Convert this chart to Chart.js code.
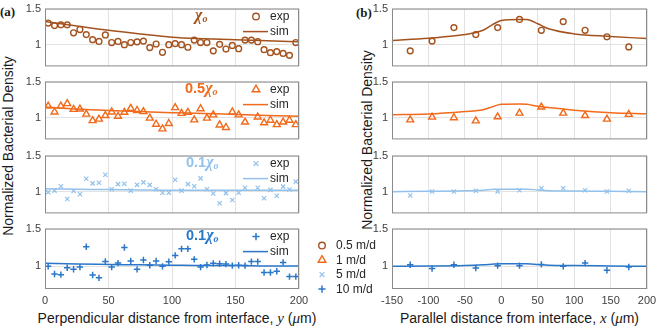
<!DOCTYPE html>
<html>
<head>
<meta charset="utf-8">
<script src="https://cdn.jsdelivr.net/npm/chart.js@4/dist/chart.umd.min.js"></script>
<style>
  body { margin: 0; background: #fff; }
  #wrap { position: relative; width: 656px; height: 328px; overflow: hidden;
          font-family: "Liberation Sans", Arial, sans-serif; color: #1a1a1a; }
  canvas { position: absolute; }
  .t { position: absolute; white-space: nowrap; }
  .lab { font: bold 13px "Liberation Serif", "Times New Roman", serif; }
  .xt { font-size: 14px; line-height: 18px; text-align: center; }
  .yt { font-size: 14px; line-height: 16px; transform: translate(-50%, -50%) rotate(-90deg); }
  .s { font-family: "Liberation Serif", "Times New Roman", serif; font-style: italic; font-size: 15px; }
  .ann { font-weight: bold; font-size: 14.5px; line-height: 16px; }
  .ann i { font-family: "Liberation Serif", "Times New Roman", serif; font-size: 16px; }
  .ann sub { font-family: "Liberation Serif", serif; font-style: italic; font-size: 10px; vertical-align: -2px; }
</style>
</head>
<body>
<div id="wrap">
  <div class="t lab" style="left:0px;top:4px">(a)</div>
  <div class="t lab" style="left:356px;top:5px">(b)</div>
  <div class="t yt" style="left:8px;top:146px">Normalized Bacterial Density</div>
  <div class="t yt" style="left:367px;top:140px">Normalized Bacterial Density</div>
  <div class="t xt" style="left:5px;width:344px;top:309px">Perpendicular distance from interface, <span class="s">y</span> (<span class="s">μ</span>m)</div>
  <div class="t xt" style="left:372px;width:295px;top:309px">Parallel distance from interface, <span class="s">x</span> (<span class="s">μ</span>m)</div>
</div>
<script>
// perpendicular profiles (panel a)
const perpX = [2.5, 7.5, 12.5, 17.5, 22.5, 27.5, 32.5, 37.5, 42.5, 47.5,
  52.5, 57.5, 62.5, 67.5, 72.5, 77.5, 82.5, 87.5, 92.5, 97.5,
  102.5, 107.5, 112.5, 117.5, 122.5, 127.5, 132.5, 137.5, 142.5, 147.5,
  152.5, 157.5, 162.5, 167.5, 172.5, 177.5, 182.5, 187.5, 192.5, 197.5];
const perpExp05 = [1.30, 1.265, 1.275, 1.275, 1.165, 1.21, 1.14, 1.07, 1.045, 1.135,
  1.03, 1.045, 1.0, 1.03, 1.04, 1.05, 0.96, 1.01, 0.895, 1.0,
  1.015, 1.0, 0.965, 1.064, 1.03, 1.03, 0.915, 1.005, 0.94, 0.99,
  0.945, 1.064, 1.064, 1.042, 0.932, 0.89, 0.905, 0.88, 0.853, 1.03];
const perpExp1 = [1.16, 1.08, 1.16, 1.195, 1.115, 1.12, 1.05, 0.96, 0.98, 1.03,
  1.08, 1.02, 1.075, 1.13, 1.10, 1.085, 0.995, 0.91, 0.845, 0.92,
  1.14, 1.06, 1.075, 0.97, 1.125, 0.995, 1.04, 0.90, 0.865, 1.08,
  1.04, 0.94, null, 1.01, 0.93, 0.965, 0.905, 0.94, 0.965, 0.905];
const perpExp5 = [0.995, 1.015, 1.075, 0.90, 1.01, 0.965, 1.18, 1.115, 1.125, 1.235,
  1.035, 1.105, 1.11, 1.015, 1.095, 1.13, 1.095, 1.035, 0.985, 0.985,
  1.165, 1.015, 1.105, 1.075, 1.185, 1.035, 0.975, 0.84, 0.98, 0.885,
  0.985, 1.055, null, 1.055, 0.91, 1.025, 0.945, 1.07, 1.03, 1.14];
const perpExp10 = [1.0, 0.898, 0.89, 0.982, 0.962, 0.99, 1.26, 0.886, 0.848, 1.065,
  0.99, 1.043, 1.25, 1.072, 0.96, 1.085, 1.015, 1.072, 1.0, 1.062,
  1.145, 1.232, 1.232, 1.093, 0.99, 1.018, 1.04, 1.035, 1.03, 1.01,
  1.015, 1.01, 1.063, 1.063, 0.918, 0.918, 0.935, 1.052, 0.864, 0.864];
const perpSimX = [0, 25, 50, 75, 100, 125, 150, 175, 200];
const perpSim05 = [1.32, 1.26, 1.20, 1.15, 1.105, 1.083, 1.068, 1.055, 1.04];
const perpSim1 = [1.15, 1.12, 1.10, 1.085, 1.07, 1.06, 1.045, 1.03, 1.02];
const perpSim5 = [1.04, 1.035, 1.03, 1.025, 1.02, 1.02, 1.02, 1.02, 1.02];
const perpSim10 = [1.04, 1.03, 1.025, 1.02, 1.015, 1.01, 1.01, 1.005, 1.005];

// parallel profiles (panel b)
const paraX = [-125, -95, -65, -35, -5, 25, 55, 85, 115, 145, 175];
const paraExp05 = [0.915, 1.05, 1.237, 1.14, 1.237, 1.35, 1.2, 1.32, 1.2, 1.11, 0.97];
const paraExp1 = [0.97, 1.008, 1.0, 0.957, 1.013, 1.064, 1.148, 1.064, 1.03, 0.98, 1.047];
const paraExp5 = [0.948, 1.004, 1.004, 1.013, 1.004, 1.02, 1.048, 1.048, 1.02, 1.004, 1.013];
const paraExp10 = [1.022, 0.97, 1.022, 0.978, 1.009, 1.009, 1.026, 1.0, 1.043, 0.948, 0.991];
const paraSimX = [-150, -100, -50, -25, -10, 0, 25, 35, 50, 65, 100, 150, 200];
const paraSim05 = [1.06, 1.09, 1.14, 1.2, 1.29, 1.335, 1.35, 1.35, 1.29, 1.22, 1.15, 1.115, 1.085];
const paraSim1 = [1.042, 1.05, 1.085, 1.11, 1.16, 1.185, 1.19, 1.185, 1.16, 1.14, 1.105, 1.07, 1.055];
const paraSim5 = [1.0, 1.005, 1.013, 1.022, 1.033, 1.035, 1.035, 1.035, 1.025, 1.015, 1.01, 1.005, 1.0];
const paraSim10 = [1.0, 1.003, 1.01, 1.02, 1.03, 1.035, 1.035, 1.033, 1.025, 1.015, 1.01, 1.005, 1.0];

const speeds = ['0.5 m/d', '1 m/d', '5 m/d', '10 m/d'];
const yTicks = [1, 1.5];
const perpTicks = [0, 50, 100, 150, 200];
const paraTicks = [-150, -100, -50, 0, 50, 100, 150, 200];

const FONT = '"Liberation Sans", Arial, sans-serif';
const SER = [
  { color: '#A4531F', style: 'circle', r: 2.9, w: 1.4 },
  { color: '#F26A1B', style: 'triangle', r: 4, w: 1.4 },
  { color: '#92C1EC', style: 'crossRot', r: 3, w: 1.2 },
  { color: '#2A77C9', style: 'cross', r: 3.2, w: 1.5 }
];
const ANN = [
  { num: '', left: 195 },
  { num: '0.5', left: 185 },
  { num: '0.1', left: 186 },
  { num: '0.1', left: 186 }
];
const COLS = {
  left: { x0: 45, x1: 299, min: 0, max: 200, ticks: perpTicks },
  right: { x0: 392, x1: 647, min: -150, max: 200, ticks: paraTicks }
};
const ROWS = [6, 79, 153, 226];
const PH = 63;
const wrap = document.getElementById('wrap');

function drawMark(ctx, style, x, y, r, color, lw) {
  ctx.save();
  ctx.strokeStyle = color;
  ctx.lineWidth = lw;
  ctx.beginPath();
  if (style === 'circle') {
    ctx.arc(x, y, r, 0, Math.PI * 2);
  } else if (style === 'triangle') {
    for (let k = 0; k < 3; k++) {
      const t = k * 2 * Math.PI / 3;
      const px = x + Math.sin(t) * r, py = y - Math.cos(t) * r;
      if (k) ctx.lineTo(px, py); else ctx.moveTo(px, py);
    }
    ctx.closePath();
  } else if (style === 'crossRot') {
    const d = r * 0.707;
    ctx.moveTo(x - d, y - d); ctx.lineTo(x + d, y + d);
    ctx.moveTo(x + d, y - d); ctx.lineTo(x - d, y + d);
  } else {
    ctx.moveTo(x - r, y); ctx.lineTo(x + r, y);
    ctx.moveTo(x, y - r); ctx.lineTo(x, y + r);
  }
  ctx.stroke();
  ctx.restore();
}

// box round the plot area + small legends, positions relative to the chart area
const boxPlugin = {
  id: 'box',
  afterDraw(chart, args, o) {
    const { ctx, chartArea: a } = chart;
    ctx.save();
    ctx.strokeStyle = '#8a8a8a';
    ctx.lineWidth = 1;
    ctx.strokeRect(a.left + 0.5, a.top + 0.5, a.width - 1, a.height - 1);
    ctx.font = '12px ' + FONT;
    ctx.textBaseline = 'middle';
    ctx.fillStyle = '#262626';
    (o.items || []).forEach(it => {
      const x = a.left + it.x, y = a.top + it.y;
      if (it.line) {
        ctx.strokeStyle = it.color;
        ctx.lineWidth = 1.5;
        ctx.beginPath();
        ctx.moveTo(x, y); ctx.lineTo(x + 25, y);
        ctx.stroke();
      } else {
        drawMark(ctx, it.style, x, y, it.r, it.color, it.w);
      }
      ctx.fillText(it.text, a.left + it.tx, y + 0.5);
    });
    ctx.restore();
  }
};

function makePanel(col, row, xs, exp, simX, sim) {
  const c = COLS[col];
  const s = SER[row];
  const bottom = row === 3;
  const outerKey = col === 'left' && bottom;
  const padR = outerKey ? 86 : 16;
  const cv = document.createElement('canvas');
  cv.width = c.x1 - c.x0 + 40 + padR;
  cv.height = PH + 8 + (bottom ? 26 : 8);
  cv.style.left = (c.x0 - 40) + 'px';
  cv.style.top = (ROWS[row] - 8) + 'px';
  wrap.appendChild(cv);

  const items = [];
  if (col === 'left') {
    items.push({ style: s.style, r: s.r + 0.4, w: s.w, color: s.color, x: 211, y: 8, tx: 225, text: 'exp' });
    items.push({ line: true, color: s.color, x: 198, y: 23, tx: 225, text: 'sim' });
  }
  if (outerKey) {
    SER.forEach((k, i) => {
      items.push({ style: k.style, r: k.r + 0.4, w: k.w, color: k.color, x: 277, y: 17 + i * 14.5, tx: 291, text: speeds[i] });
    });
  }

  new Chart(cv, {
    type: 'line',
    data: {
      datasets: [
        {
          data: simX.map((x, i) => ({ x, y: sim[i] })),
          borderColor: s.color, borderWidth: 1.5, pointRadius: 0,
          cubicInterpolationMode: 'monotone', fill: false
        },
        {
          data: xs.map((x, i) => ({ x, y: exp[i] })),
          showLine: false, pointStyle: s.style, pointRadius: s.r,
          pointBorderWidth: s.w, pointBorderColor: s.color, borderColor: s.color,
          pointBackgroundColor: 'rgba(0,0,0,0)'
        }
      ]
    },
    options: {
      responsive: false,
      animation: false,
      events: [],
      layout: { padding: { left: 0, top: 8, right: padR, bottom: bottom ? 0 : 8 } },
      plugins: {
        legend: { display: false },
        tooltip: { enabled: false },
        box: { items }
      },
      scales: {
        x: {
          type: 'linear', min: c.min, max: c.max,
          afterBuildTicks: sc => { sc.ticks = c.ticks.map(v => ({ value: v })); },
          afterFit: sc => { sc.height = bottom ? 26 : 0; },
          grid: { color: '#e2e2e2', drawTicks: false },
          border: { display: false },
          ticks: { display: bottom, padding: 5, color: '#404040', maxRotation: 0, autoSkip: false,
                   font: { family: FONT, size: 11 }, callback: v => String(v) }
        },
        y: {
          min: 0.7, max: 1.5,
          afterBuildTicks: sc => { sc.ticks = yTicks.map(v => ({ value: v })); },
          afterFit: sc => { sc.width = 40; },
          grid: { color: '#e2e2e2', drawTicks: false },
          border: { display: false },
          ticks: { padding: 4, color: '#404040', font: { family: FONT, size: 11 }, callback: v => String(v) }
        }
      }
    },
    plugins: [boxPlugin]
  });

  if (col === 'left') {
    const a = ANN[row];
    const d = document.createElement('div');
    d.className = 't ann';
    d.style.left = a.left + 'px';
    d.style.top = (ROWS[row] + 1) + 'px';
    d.style.color = s.color;
    d.innerHTML = a.num + '<i>χ</i><sub>o</sub>';
    wrap.appendChild(d);
  }
}

makePanel('left', 0, perpX, perpExp05, perpSimX, perpSim05);
makePanel('left', 1, perpX, perpExp1, perpSimX, perpSim1);
makePanel('left', 2, perpX, perpExp5, perpSimX, perpSim5);
makePanel('left', 3, perpX, perpExp10, perpSimX, perpSim10);
makePanel('right', 0, paraX, paraExp05, paraSimX, paraSim05);
makePanel('right', 1, paraX, paraExp1, paraSimX, paraSim1);
makePanel('right', 2, paraX, paraExp5, paraSimX, paraSim5);
makePanel('right', 3, paraX, paraExp10, paraSimX, paraSim10);
</script>
</body>
</html>
